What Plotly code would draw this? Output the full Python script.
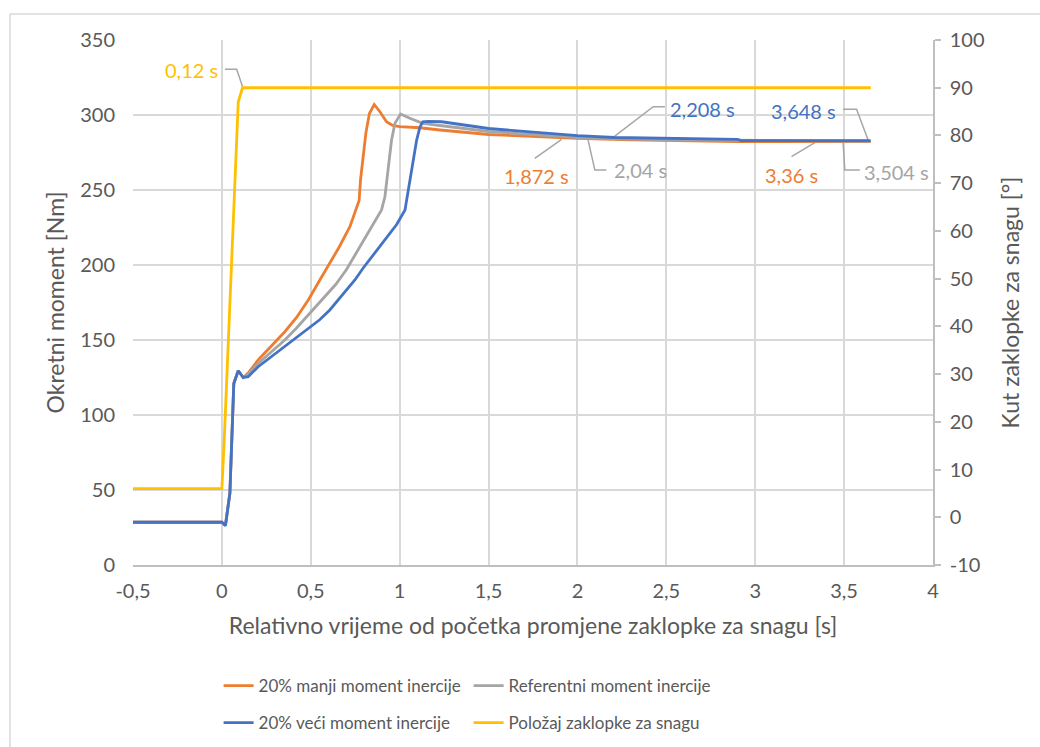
import plotly.graph_objects as go

# ---------------- data ----------------
t_orange = [-0.5, 0.0, 0.02, 0.045, 0.067, 0.092, 0.12, 0.148, 0.204, 0.28, 0.354, 0.42, 0.486,
            0.551, 0.607, 0.66, 0.72, 0.758, 0.772, 0.78, 0.795, 0.81, 0.83, 0.857, 0.89, 0.926,
            0.96, 1.0, 1.114, 1.226, 1.5, 1.872, 2.0, 2.3, 2.63, 2.9, 3.36, 3.65]
m_orange = [28.5, 28.5, 26.5, 48, 121, 129.5, 125, 128, 136.7, 146, 155.5, 165, 176.7,
            190, 201, 212, 225.5, 238, 243, 257, 272, 288, 301, 307, 302, 295.5,
            293, 292.2, 291.5, 290, 287, 285, 284.4, 283.5, 282.7, 282.3, 282.2, 282.2]

t_gray = [-0.5, 0.0, 0.02, 0.045, 0.067, 0.092, 0.12, 0.148, 0.204, 0.28, 0.354, 0.42, 0.486,
          0.565, 0.64, 0.701, 0.76, 0.832, 0.898, 0.917, 0.93, 0.954, 0.973, 1.005, 1.057, 1.13,
          1.226, 1.5, 2.0, 2.04, 2.5, 3.0, 3.504, 3.65]
m_gray = [28.5, 28.5, 26.5, 48, 121, 129.5, 125, 127, 134.4, 142, 150, 158, 166.7,
          177, 187, 197, 209, 223.3, 236.7, 245.5, 258, 283, 294.4, 300.7, 297.8, 294.4,
          293, 289, 285, 284.8, 283.5, 283, 282.5, 282.5]

t_blue = [-0.5, 0.0, 0.02, 0.045, 0.067, 0.092, 0.12, 0.148, 0.204, 0.28, 0.354, 0.42, 0.486,
          0.55, 0.607, 0.68, 0.748, 0.795, 0.86, 0.926, 0.983, 1.03, 1.057, 1.095, 1.114, 1.13,
          1.16, 1.236, 1.5, 2.0, 2.208, 2.63, 2.9, 2.92, 3.648]
m_blue = [28.5, 28.5, 26.2, 47.8, 121, 129.5, 125, 125.5, 132.2, 139, 145.5, 151.5, 157.8,
          163.5, 170, 180, 190, 198, 208, 218, 227, 236.7, 256.7, 283, 292, 295.5,
          295.8, 295.5, 291, 286.2, 285, 284, 283.8, 282.9, 282.9]

t_yellow = [-0.5, 0.0, 0.013, 0.036, 0.065, 0.092, 0.116, 3.65]
a_yellow = [6, 6, 16, 37, 62, 87, 90, 90]

series_names = ["20% manji moment inercije", "Referentni moment inercije",
                "20% veći moment inercije", "Položaj zaklopke za snagu"]
series_colors = ["#ED7D31", "#A5A5A5", "#4472C4", "#FFC000"]

x_tickvals = [-0.5, 0, 0.5, 1, 1.5, 2, 2.5, 3, 3.5, 4]
x_ticktext = ["-0,5", "0", "0,5", "1", "1,5", "2", "2,5", "3", "3,5", "4"]
y_tickvals = [0, 50, 100, 150, 200, 250, 300, 350]
y2_tickvals = [-10, 0, 10, 20, 30, 40, 50, 60, 70, 80, 90, 100]
y2_ticktext = ["-10", "0", "10", "20", "30", "40", "50", "60", "70", "80", "90", "100"]

# data labels: text, label position (t, Nm), leader polyline (t list, Nm list), colour index
label_texts = ["0,12 s", "1,872 s", "2,04 s", "2,208 s", "3,648 s", "3,36 s", "3,504 s"]
label_x = [-0.172, 1.772, 2.356, 2.704, 3.27, 3.204, 3.795]
label_y = [330, 259.5, 263.3, 303.8, 302.9, 260, 262.2]
label_color_idx = [3, 0, 1, 2, 2, 0, 1]
leader_x = [[0.017, 0.083, 0.116], [1.760, 1.911], [2.060, 2.098, 2.163],
            [2.201, 2.426, 2.492], [3.494, 3.570, 3.635], [3.204, 3.345], [3.494, 3.504, 3.588]]
leader_y = [[330.5, 330.5, 319], [271.1, 283.8], [283.3, 263.3, 263.3],
            [285.1, 305.5, 305.5], [303.8, 303.8, 283.3], [272.2, 282.2], [282.2, 263.3, 263.3]]

# ---------------- figure ----------------
FONT = "Lato, Carlito, Calibri, sans-serif"
TXT = "#595959"
GRID = "#D9D9D9"

fig = go.Figure()

# leader lines (drawn first so they sit under the curves)
for lx, ly in zip(leader_x, leader_y):
    fig.add_trace(go.Scatter(x=lx, y=ly, mode="lines", line=dict(color="#A6A6A6", width=1.5),
                             showlegend=False, hoverinfo="skip"))

fig.add_trace(go.Scatter(x=t_orange, y=m_orange, mode="lines", name=series_names[0],
                         line=dict(color=series_colors[0], width=2.8), legend="legend"))
fig.add_trace(go.Scatter(x=t_gray, y=m_gray, mode="lines", name=series_names[1],
                         line=dict(color=series_colors[1], width=2.8), legend="legend"))
fig.add_trace(go.Scatter(x=t_blue, y=m_blue, mode="lines", name=series_names[2],
                         line=dict(color=series_colors[2], width=2.8), legend="legend2"))
fig.add_trace(go.Scatter(x=t_yellow, y=a_yellow, mode="lines", name=series_names[3],
                         line=dict(color=series_colors[3], width=2.8), yaxis="y2", legend="legend2"))

for txt, lx, ly, ci in zip(label_texts, label_x, label_y, label_color_idx):
    fig.add_annotation(x=lx, y=ly, xref="x", yref="y", text=txt, showarrow=False,
                       font=dict(family=FONT, size=20, color=series_colors[ci]))

# chart border (only its left and top edges fall inside the picture)
fig.add_shape(type="rect", xref="paper", yref="paper", x0=-0.15375, x1=1.3, y0=-0.6, y1=1.0495,
              line=dict(color="#D9D9D9", width=1.5), layer="below")

legend_common = dict(orientation="h", xanchor="left", yanchor="middle",
                     font=dict(family=FONT, size=17, color=TXT),
                     entrywidth=205, entrywidthmode="pixels", bgcolor="rgba(0,0,0,0)",
                     itemwidth=30, tracegroupgap=0)

fig.update_layout(
    width=1040, height=747,
    margin=dict(l=133, r=107, t=40, b=182, autoexpand=False),
    paper_bgcolor="white", plot_bgcolor="white",
    font=dict(family=FONT, color=TXT, size=20),
    legend=dict(x=0.107, y=-0.2305, **legend_common),
    legend2=dict(x=0.107, y=-0.301, **legend_common),
    xaxis=dict(range=[-0.5, 4], tickvals=x_tickvals, ticktext=x_ticktext,
               showgrid=True, gridcolor=GRID, gridwidth=1.5, zeroline=False,
               showline=True, linecolor="#BFBFBF", linewidth=1.5, ticks="",
               tickfont=dict(family=FONT, size=20, color=TXT), ticklabelstandoff=7,
               title=dict(text="Relativno vrijeme od početka promjene zaklopke za snagu [s]",
                          font=dict(family=FONT, size=23, color=TXT), standoff=17),
               automargin=False),
    yaxis=dict(range=[0, 350], tickvals=y_tickvals, showgrid=True, gridcolor=GRID, gridwidth=1.5,
               zeroline=False, showline=False, ticks="",
               tickfont=dict(family=FONT, size=20, color=TXT), ticklabelstandoff=17,
               title=dict(text="Okretni moment [Nm]", font=dict(family=FONT, size=23, color=TXT),
                          standoff=9),
               automargin=False),
    yaxis2=dict(range=[-10, 100], tickvals=y2_tickvals, ticktext=y2_ticktext, overlaying="y",
                side="right", showgrid=False, zeroline=False, showline=True, linecolor="#BFBFBF",
                linewidth=1.5, ticks="outside", ticklen=6, tickcolor="#BFBFBF", tickwidth=1.5,
                tickfont=dict(family=FONT, size=20, color=TXT), ticklabelstandoff=5,
                title=dict(text="Kut zaklopke za snagu [°]", font=dict(family=FONT, size=23, color=TXT),
                           standoff=19),
                automargin=False),
)

fig.write_html("out.html", config={"displayModeBar": False},
               post_script="document.body.style.margin='0';")
